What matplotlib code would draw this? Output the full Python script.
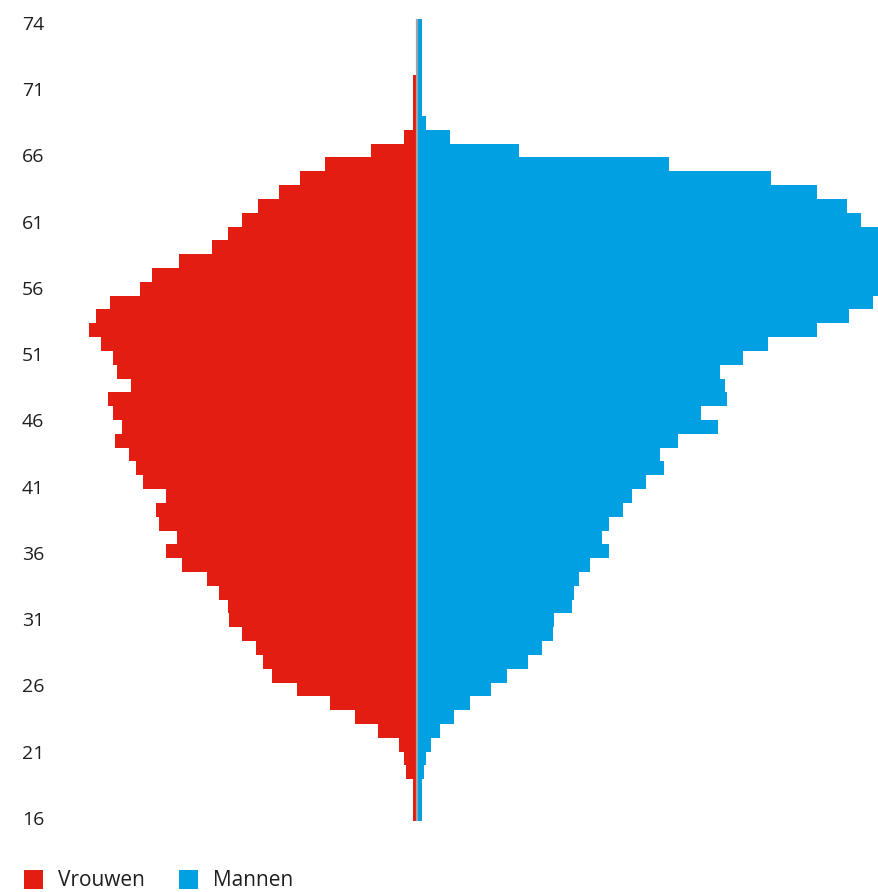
import matplotlib
matplotlib.use("Agg")
import matplotlib.pyplot as plt
from matplotlib.patches import Rectangle
import numpy as np

# leeftijdsopbouw, van onder (jong) naar boven (oud)
ages = list(range(17, 75))
vrouwen = [4, 4, 4, 11, 13, 18, 39, 62, 87, 120,
           145, 154, 161, 175, 188, 189, 198, 210, 235, 251,
           240, 258, 261, 251, 274, 281, 288, 302, 295, 304,
           309, 286, 300, 304, 316, 328, 321, 307, 277, 265,
           238, 205, 189, 175, 159, 138, 117, 92, 46, 13,
           4, 4, 4, 4, 0, 0, 0, 0]
mannen = [5, 5, 5, 7, 9, 14, 23, 37, 53, 74,
          90, 111, 125, 136, 137, 155, 157, 162, 173, 192,
          185, 192, 206, 215, 229, 247, 243, 261, 301, 284,
          310, 308, 303, 326, 351, 400, 432, 456, 468, 475,
          480, 475, 465, 444, 430, 400, 354, 252, 102, 33,
          9, 5, 5, 5, 5, 5, 5, 5]

tick_labels = ['16', '21', '26', '31', '36', '41', '46', '51', '56', '61', '66', '71', '74']

red = '#e31d12'
blue = '#00a0e2'
txt = '#1e1e1e'

plt.rcParams['font.family'] = ['Open Sans', 'DejaVu Sans']

fig = plt.figure(figsize=(8.79, 8.92), dpi=100)
ax = fig.add_axes([60 / 879, 1 - 820.7 / 892, 1 - 60 / 879, (820.7 - 19.3) / 892])

y = np.arange(len(ages))
ax.barh(y, -np.array(vrouwen), height=1.0, color=red, linewidth=0)
ax.barh(y, mannen, height=1.0, color=blue, linewidth=0)
ax.axvline(0, color='#a3a3a3', lw=1.6)

ax.set_xlim(-356.7, 462.3)
ax.set_ylim(-0.5, len(ages) - 0.5)

ax.set_yticks(np.linspace(-0.3, len(ages) - 0.75, len(tick_labels)))
ax.set_yticklabels(tick_labels, fontsize=14, color=txt)
ax.tick_params(axis='y', length=0, pad=38 * 72 / 100)
for lab in ax.get_yticklabels():
    lab.set_horizontalalignment('left')
ax.set_xticks([])
for s in ax.spines.values():
    s.set_visible(False)

# legenda
fig.add_artist(Rectangle((24 / 879, 3 / 892), 19 / 879, 19 / 892,
                         transform=fig.transFigure, color=red, lw=0))
fig.text(57.7 / 879, 12 / 892, 'Vrouwen', fontsize=15, color=txt, va='center')
fig.add_artist(Rectangle((179 / 879, 3 / 892), 19 / 879, 19 / 892,
                         transform=fig.transFigure, color=blue, lw=0))
fig.text(213.3 / 879, 12 / 892, 'Mannen', fontsize=15, color=txt, va='center')

fig.savefig('out.png', dpi=100)
